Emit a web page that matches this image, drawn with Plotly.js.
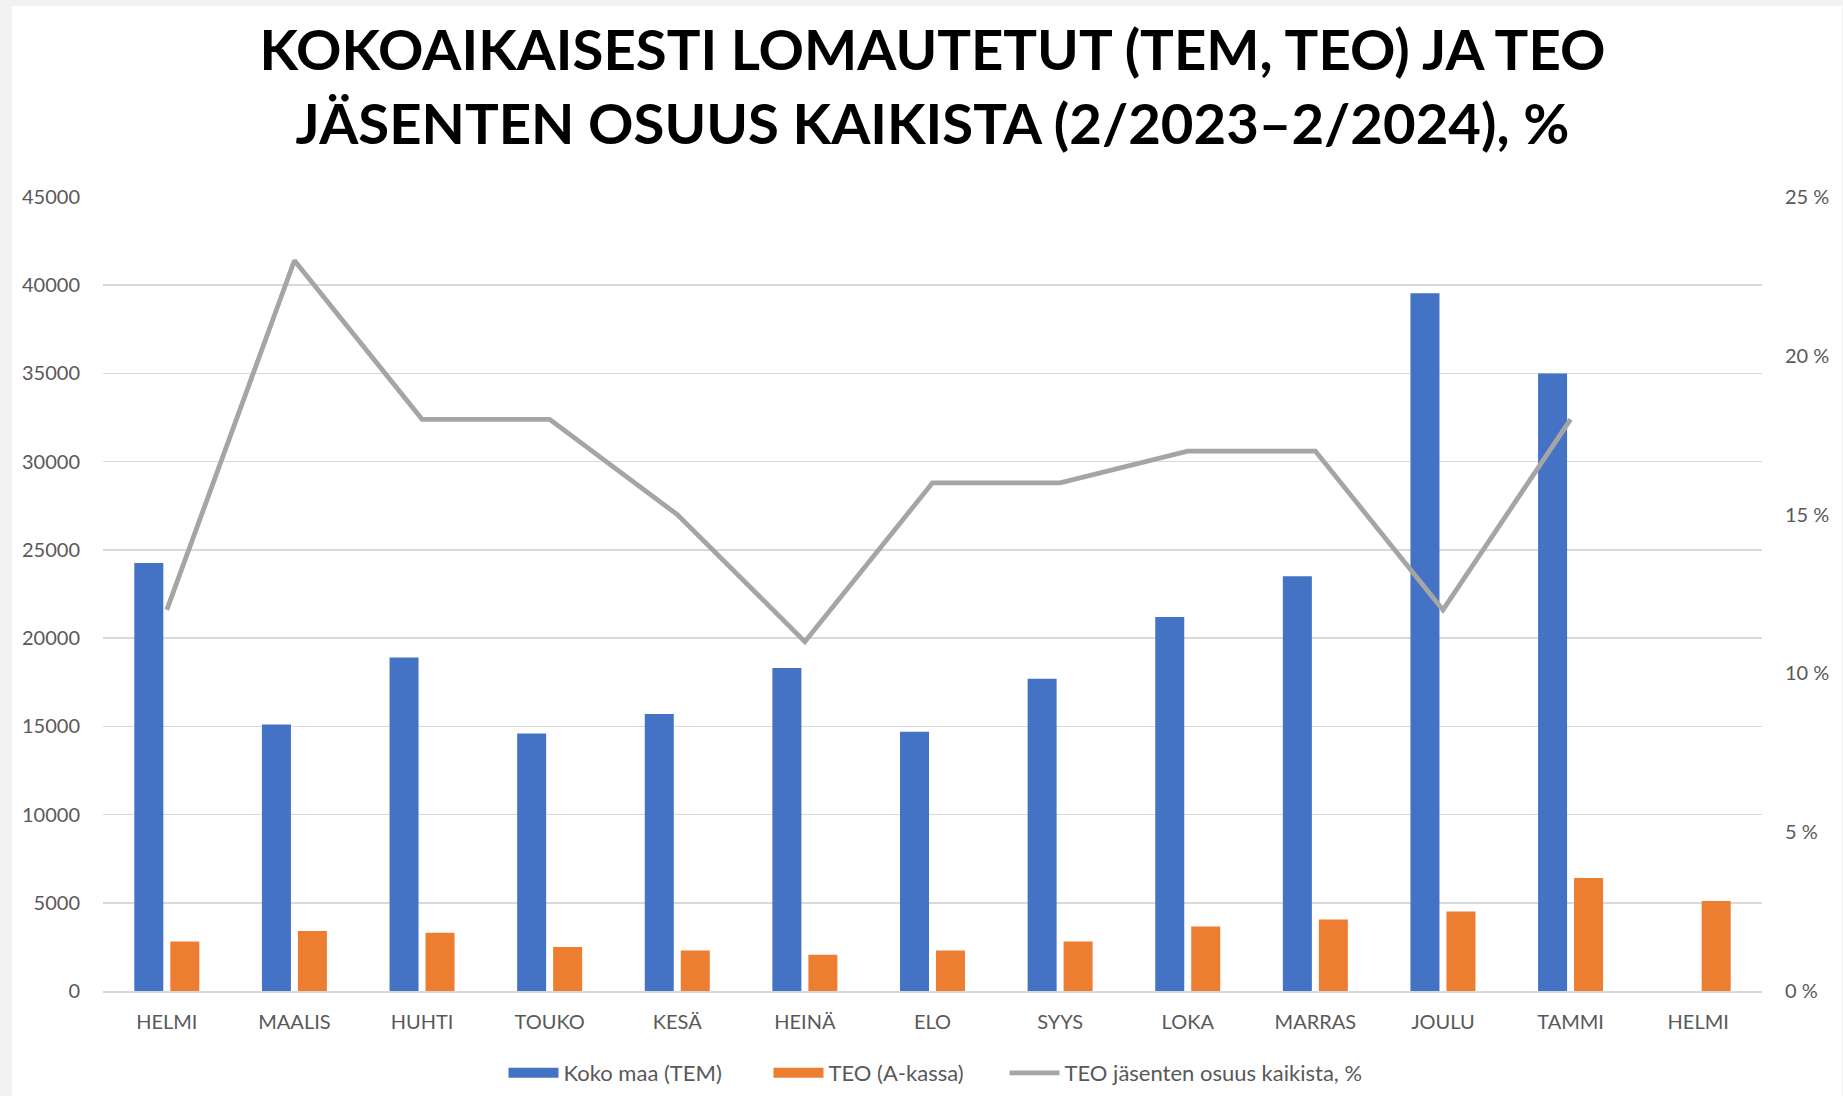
<!DOCTYPE html>
<html>
<head>
<meta charset="utf-8">
<script src="https://cdn.plot.ly/plotly-3.0.1.min.js"></script>
<style>
  html, body { margin: 0; padding: 0; background: #f2f2f2; }
  #chart { position: absolute; left: 12px; top: 6px; width: 1830px; height: 1090px; background: #fff; }
</style>
</head>
<body>
<div id="chart"></div>
<script>
const categories = ["HELMI", "MAALIS", "HUHTI", "TOUKO", "KESÄ", "HEINÄ", "ELO", "SYYS", "LOKA", "MARRAS", "JOULU", "TAMMI", "HELMI"];
const kokoMaa = [24250, 15100, 18900, 14600, 15700, 18300, 14700, 17700, 21200, 23500, 39550, 35000, null];
const teoKassa = [2800, 3400, 3300, 2500, 2300, 2050, 2300, 2800, 3650, 4050, 4500, 6400, 5100];
const teoOsuus = [12, 23, 18, 18, 15, 11, 16, 16, 17, 17, 12, 18, null];
const leftTicks = [0, 5000, 10000, 15000, 20000, 25000, 30000, 35000, 40000, 45000];
const rightTicks = [0, 5, 10, 15, 20, 25];

const seriesNames = ["Koko maa (TEM)", "TEO (A-kassa)", "TEO jäsenten osuus kaikista, %"];
const seriesColors = ["#4472C4", "#ED7D31", "#A5A5A5"];

const xIdx = categories.map((c, i) => i);
const FONT = "Lato, 'Open Sans', sans-serif";
const TXT = "#595959";

const traces = [
  { type: "bar", name: seriesNames[0], x: xIdx, y: kokoMaa, marker: { color: seriesColors[0] }, showlegend: false, hoverinfo: "y" },
  { type: "bar", name: seriesNames[1], x: xIdx, y: teoKassa, marker: { color: seriesColors[1] }, showlegend: false, hoverinfo: "y" },
  { type: "scatter", mode: "lines", name: seriesNames[2], x: xIdx, y: teoOsuus, yaxis: "y2",
    line: { color: seriesColors[2], width: 4.8 }, connectgaps: false, showlegend: false, hoverinfo: "y" },
  // legend entries (Excel-style wide swatches)
  { type: "scatter", mode: "lines", name: seriesNames[0], x: [null], y: [null], line: { color: seriesColors[0], width: 12 }, legendrank: 1, legendwidth: 200 },
  { type: "scatter", mode: "lines", name: seriesNames[1], x: [null], y: [null], line: { color: seriesColors[1], width: 12 }, legendrank: 2, legendwidth: 171 },
  { type: "scatter", mode: "lines", name: seriesNames[2], x: [null], y: [null], line: { color: seriesColors[2], width: 4.8 }, legendrank: 3, legendwidth: 292 }
];

const layout = {
  width: 1830, height: 1090,
  paper_bgcolor: "#ffffff", plot_bgcolor: "#ffffff",
  margin: { l: 91, r: 80, t: 191, b: 105 },
  barmode: "group", bargap: 0.436, bargroupgap: 0.194,
  font: { family: FONT, color: TXT, size: 20 },
  title: {
    text: "<b>KOKOAIKAISESTI LOMAUTETUT (TEM, TEO) JA TEO<br>JÄSENTEN OSUUS KAIKISTA (2/2023–2/2024), %</b>",
    font: { family: FONT, size: 56.3, color: "#000000" },
    x: 0.5, xanchor: "center", xref: "paper",
    y: 0.941, yanchor: "top", yref: "container"
  },
  xaxis: {
    range: [-0.5, 12.5], tickvals: xIdx, ticktext: categories, automargin: false,
    showgrid: false, zeroline: false, showline: true, linecolor: "#D9D9D9", linewidth: 1.5,
    ticks: "", ticklabelstandoff: 12, tickfont: { size: 20, color: TXT }, fixedrange: true
  },
  yaxis: {
    range: [0, 45000], tickvals: leftTicks, ticktext: leftTicks.map(String), automargin: false,
    showgrid: true, gridcolor: "#D9D9D9", gridwidth: 1.5, zeroline: false, showline: false,
    ticks: "", ticklabelstandoff: 22, tickfont: { size: 20, color: TXT }
  },
  yaxis2: {
    overlaying: "y", side: "right", range: [0, 25], tickvals: rightTicks, ticktext: rightTicks.map(v => v + " %"), automargin: false,
    showgrid: false, zeroline: false, showline: false,
    ticks: "", ticklabelstandoff: 22, tickfont: { size: 20, color: TXT }
  },
  showlegend: true,
  legend: {
    orientation: "h", x: 0.5, xanchor: "center", xref: "paper",
    y: 0.0211, yanchor: "middle", yref: "container",
    font: { size: 22, color: TXT }, traceorder: "normal", itemwidth: 50
  }
};

Plotly.newPlot("chart", traces, layout, { displayModeBar: false, staticPlot: true });
</script>
</body>
</html>
